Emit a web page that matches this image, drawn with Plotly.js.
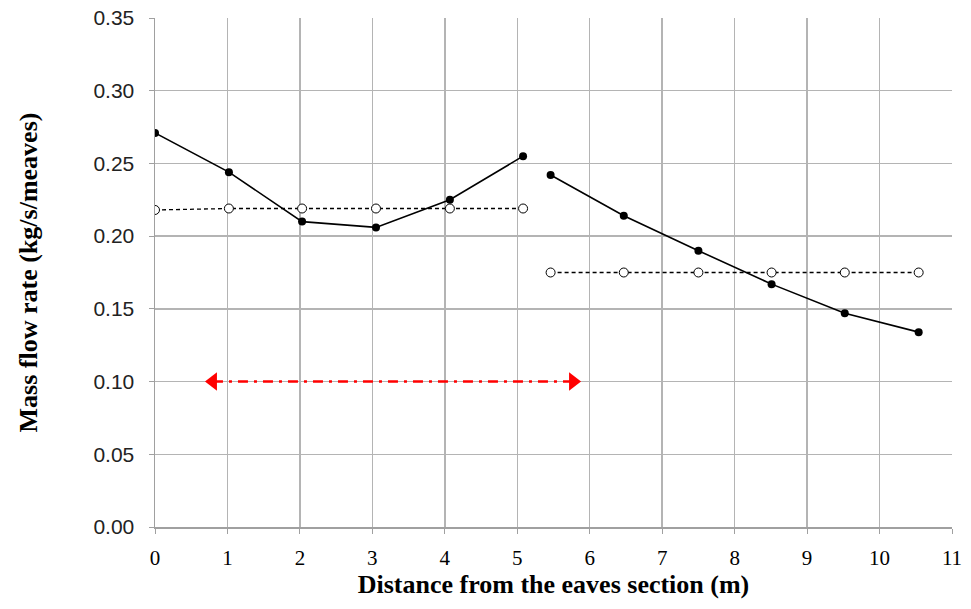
<!DOCTYPE html>
<html>
<head>
<meta charset="utf-8">
<script src="https://cdn.plot.ly/plotly-3.0.1.min.js"></script>
<style>html,body{margin:0;padding:0;background:#fff;}#chart{width:971px;height:609px;}</style>
</head>
<body>
<div id="chart"></div>
<script>
// Solid series, segment 1 and 2
const solidX1 = [0, 1.02, 2.03, 3.05, 4.07, 5.08];
const solidY1 = [0.271, 0.244, 0.210, 0.206, 0.225, 0.255];
const solidX2 = [5.46, 6.47, 7.50, 8.51, 9.52, 10.54];
const solidY2 = [0.242, 0.214, 0.190, 0.167, 0.147, 0.134];
// Dashed series (open circles)
const dashX1 = [0, 1.02, 2.03, 3.05, 4.07, 5.08];
const dashY1 = [0.218, 0.219, 0.219, 0.219, 0.219, 0.219];
const dashX2 = [5.46, 6.47, 7.50, 8.51, 9.52, 10.54];
const dashY2 = [0.175, 0.175, 0.175, 0.175, 0.175, 0.175];
// Red double arrow
const arrowX = [0.8, 5.77];
const arrowY = [0.10, 0.10];

const solidStyle = {mode:'lines+markers', line:{color:'#000', width:1.6}, marker:{color:'#000', size:8, symbol:'circle'}, showlegend:false};
const dashStyle = {mode:'lines+markers', line:{color:'#000', width:1.3, dash:'4px,3px'}, marker:{color:'#fff', size:9, symbol:'circle', line:{color:'#000', width:1}}, showlegend:false};

const traces = [
  Object.assign({x:dashX1, y:dashY1}, dashStyle),
  Object.assign({x:dashX2, y:dashY2}, dashStyle),
  Object.assign({x:solidX1, y:solidY1}, solidStyle),
  Object.assign({x:solidX2, y:solidY2}, solidStyle),
  {x:arrowX, y:arrowY, mode:'lines+markers', line:{color:'#ff0000', width:2.5, dash:'10px,6px,3px,6px'},
   marker:{color:'#ff0000', size:16, symbol:['triangle-left','triangle-right']}, showlegend:false}
];

const layout = {
  width:971, height:609,
  margin:{l:155, r:19, t:18, b:82},
  paper_bgcolor:'#fff', plot_bgcolor:'#fff',
  xaxis:{range:[0,11], dtick:1, tick0:0, showgrid:true, gridcolor:'#b4b4b4', gridwidth:1.5,
    showline:true, linecolor:'#a0a0a0', linewidth:1.5, ticks:'outside', ticklen:5, tickcolor:'#a0a0a0',
    ticklabelstandoff:6,
    zeroline:false, tickfont:{family:'Liberation Serif', size:21, color:'#000'},
    title:{text:'Distance from the eaves section (m)', font:{family:'Liberation Serif', size:26, color:'#000', weight:'bold'}, standoff:4}},
  yaxis:{range:[0,0.35], dtick:0.05, tick0:0, tickformat:'.2f', showgrid:true, gridcolor:'#b4b4b4', gridwidth:1.5,
    showline:true, linecolor:'#a0a0a0', linewidth:1.5, ticks:'outside', ticklen:5, tickcolor:'#a0a0a0',
    ticklabelstandoff:10,
    zeroline:false, tickfont:{family:'Liberation Sans', size:21, color:'#222'},
    title:{text:'Mass flow rate (kg/s/meaves)', font:{family:'Liberation Serif', size:26, color:'#000', weight:'bold'}, standoff:48}},
  showlegend:false
};

Plotly.newPlot('chart', traces, layout, {staticPlot:true, displayModeBar:false});
</script>
</body>
</html>
